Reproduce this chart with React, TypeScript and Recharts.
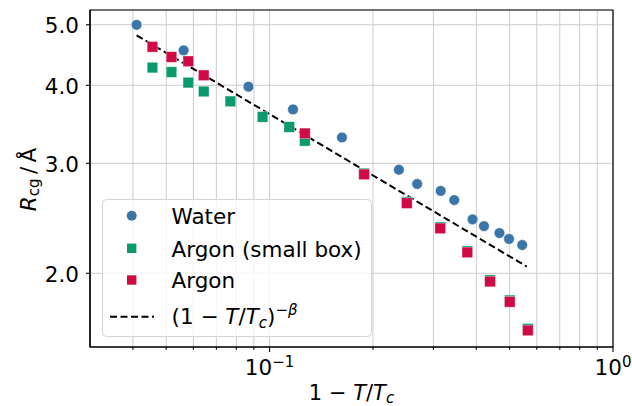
import React from 'react';
import { ScatterChart, Scatter, XAxis, YAxis, CartesianGrid, ReferenceArea } from 'recharts';

// reduced temperature 1 - T/Tc and the radius R_cg (Angstrom)
const waterT = [0.041, 0.0562, 0.0868, 0.117, 0.1625, 0.238, 0.269, 0.315, 0.345, 0.39, 0.421, 0.467, 0.498, 0.544];
const waterR = [5.0, 4.55, 3.98, 3.66, 3.3, 2.93, 2.78, 2.71, 2.62, 2.44, 2.38, 2.32, 2.27, 2.22];

const smallBoxT = [0.0456, 0.0518, 0.058, 0.0643, 0.0769, 0.0954, 0.1141, 0.1267, 0.1885, 0.251, 0.314, 0.3765, 0.4385, 0.5005, 0.565];
const smallBoxR = [4.27, 4.2, 4.04, 3.91, 3.77, 3.56, 3.43, 3.26, 2.89, 2.6, 2.37, 2.17, 1.95, 1.81, 1.63];

const argonT = [0.0456, 0.0518, 0.058, 0.0643, 0.1267, 0.1885, 0.251, 0.314, 0.3765, 0.4385, 0.5005, 0.565];
const argonR = [4.61, 4.44, 4.37, 4.15, 3.35, 2.88, 2.59, 2.36, 2.16, 1.94, 1.8, 1.62];

// power law guide (straight on log-log, so two ends are enough)
const fitT = [0.041, 0.561];
const fitR = [4.81, 2.05];

const xTicks = [0.04, 0.05, 0.06, 0.07, 0.08, 0.09, 0.1, 0.2, 0.3, 0.4, 0.5, 0.6, 0.7, 0.8, 0.9, 1];
const yTicks = [2, 3, 4, 5];

const X_DOMAIN: [number, number] = [0.03, 1];
const Y_DOMAIN: [number, number] = [1.524, 5.28];

const BLUE = '#3b76a9';
const GREEN = '#0a9a6e';
const RED = '#cf0a45';
const FONT = '"DejaVu Sans", sans-serif';

const toPoints = (ts: number[], rs: number[]) => ts.map((t, i) => ({ t, r: rs[i] }));

const Circle = (props: any) => (
  <circle cx={props.cx} cy={props.cy} r={5.4} fill={BLUE} stroke="#fff" strokeWidth={0.6} />
);

const square = (color: string) => (props: any) => (
  <rect x={props.cx - 5.3} y={props.cy - 5.3} width={10.6} height={10.6} fill={color} stroke="#fff" strokeOpacity={0.6} strokeWidth={0.6} />
);

const XTick = (props: any) => {
  const { x, y, payload } = props;
  const v = payload.value;
  const exp = Math.round(Math.log10(v));
  const major = Math.abs(v - Math.pow(10, exp)) < 1e-9;
  return (
    <g>
      <line x1={x} x2={x} y1={y} y2={y + (major ? 5 : 2.8)} stroke="#000" strokeWidth={1.1} />
      {major && (
        <text x={x} y={y + 28} textAnchor="middle" fontSize={21.5} fontFamily={FONT} fill="#000">
          <tspan>10</tspan>
          <tspan dy={-8} fontSize={15}>{exp === 0 ? '0' : `\u2212${-exp}`}</tspan>
        </text>
      )}
    </g>
  );
};

const YTick = (props: any) => {
  const { x, y, payload } = props;
  return (
    <g>
      <line x1={x - 4} x2={x} y1={y} y2={y} stroke="#000" strokeWidth={1.1} />
      <text x={x - 11} y={y + 8.5} textAnchor="end" fontSize={21.5} fontFamily={FONT} fill="#000">
        {payload.value.toFixed(1)}
      </text>
    </g>
  );
};

const XLabel = (props: any) => {
  const vb = props.viewBox ?? { x: 90, y: 347, width: 523, height: 59 };
  return (
    <text x={vb.x + vb.width / 2} y={vb.y + 52.5} textAnchor="middle" fontSize={21} fontFamily={FONT} fill="#000">
      <tspan>1 − </tspan>
      <tspan fontStyle="italic">T</tspan>
      <tspan>/</tspan>
      <tspan fontStyle="italic">T</tspan>
      <tspan dy={3} fontSize={15} fontStyle="italic">c</tspan>
    </text>
  );
};

const YLabel = (props: any) => {
  const vb = props.viewBox ?? { x: 0, y: 10, width: 90, height: 337 };
  const cy = vb.y + vb.height / 2 + 1;
  return (
    <text transform={`translate(36,${cy}) rotate(-90)`} textAnchor="middle" fontSize={21.5} fontFamily={FONT} fill="#000">
      <tspan fontStyle="italic">R</tspan>
      <tspan dy={3} fontSize={15}>cg</tspan>
      <tspan dy={-3}>{'\u2009/\u2009Å'}</tspan>
    </text>
  );
};

const LegendBox = () => (
  <svg width={632} height={406} style={{ position: 'absolute', left: 0, top: 0, pointerEvents: 'none' }}>
    <rect x={102.5} y={199.5} width={269} height={137} rx={4} fill="#fff" fillOpacity={0.8} stroke="#d4d4d4" strokeWidth={1} />
    <circle cx={131.7} cy={215.7} r={5} fill={BLUE} />
    <rect x={127} y={243.6} width={9.4} height={9.4} fill={GREEN} />
    <rect x={127} y={275.3} width={9.4} height={9.4} fill={RED} />
    <line x1={110} x2={154} y1={316.7} y2={316.7} stroke="#000" strokeWidth={2} strokeDasharray="7 3.5" />
    <g fontSize={21.5} fontFamily={FONT} fill="#000">
      <text x={171.5} y={224.3}>Water</text>
      <text x={171.5} y={256.5}>Argon (small box)</text>
      <text x={171.5} y={288.3}>Argon</text>
      <text x={171.5} y={323.5}>
        <tspan>(1 − </tspan>
        <tspan fontStyle="italic">T</tspan>
        <tspan>/</tspan>
        <tspan fontStyle="italic">T</tspan>
        <tspan dy={4} fontSize={15} fontStyle="italic">c</tspan>
        <tspan dy={-4}>)</tspan>
        <tspan dy={-9} fontSize={15}>−</tspan>
        <tspan fontSize={15} fontStyle="italic">β</tspan>
      </text>
    </g>
  </svg>
);

const App: React.FC = () => {
  return (
    <div style={{ position: 'fixed', left: 0, top: 0, width: 632, height: 406, background: '#fff', fontFamily: FONT }}>
      <ScatterChart width={632} height={406} margin={{ top: 10, right: 19, bottom: 0, left: 0 }}>
        <CartesianGrid stroke="#cccccc" strokeWidth={1} />
        <XAxis
          type="number"
          dataKey="t"
          scale="log"
          domain={X_DOMAIN}
          allowDataOverflow
          ticks={xTicks}
          interval={0}
          height={59}
          tickSize={0}
          tickMargin={0}
          tickLine={false}
          tick={<XTick />}
          axisLine={{ stroke: '#000', strokeWidth: 1.2 }}
          label={<XLabel />}
        />
        <YAxis
          type="number"
          dataKey="r"
          scale="log"
          domain={Y_DOMAIN}
          allowDataOverflow
          ticks={yTicks}
          interval={0}
          width={90}
          tickSize={0}
          tickMargin={0}
          tickLine={false}
          tick={<YTick />}
          axisLine={{ stroke: '#000', strokeWidth: 1.2 }}
          label={<YLabel />}
        />
        <ReferenceArea x1={X_DOMAIN[0]} x2={X_DOMAIN[1]} y1={Y_DOMAIN[0]} y2={Y_DOMAIN[1]} fill="none" stroke="#000" strokeWidth={1.2} />
        <Scatter
          name="fit"
          data={toPoints(fitT, fitR)}
          line={{ stroke: '#000', strokeWidth: 2, strokeDasharray: '7 3.5' }}
          shape={() => <g />}
          isAnimationActive={false}
        />
        <Scatter name="Water" data={toPoints(waterT, waterR)} shape={Circle} isAnimationActive={false} />
        <Scatter name="Argon (small box)" data={toPoints(smallBoxT, smallBoxR)} shape={square(GREEN)} isAnimationActive={false} />
        <Scatter name="Argon" data={toPoints(argonT, argonR)} shape={square(RED)} isAnimationActive={false} />
      </ScatterChart>
      <LegendBox />
    </div>
  );
};

export default App;
